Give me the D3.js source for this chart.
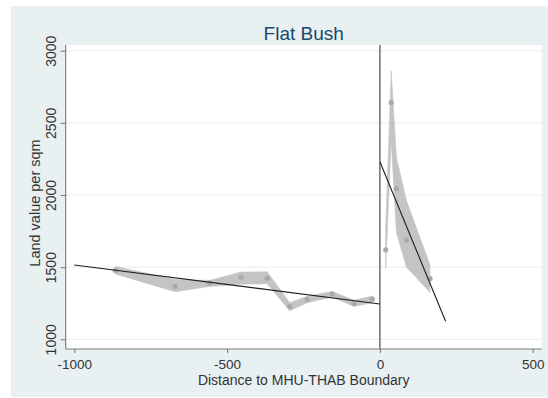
<!DOCTYPE html>
<html>
<head>
<meta charset="utf-8">
<script src="https://cdn.jsdelivr.net/npm/d3@7"></script>
<style>
  body { margin: 0; background: #fff; }
  text { font-family: 'Liberation Sans', Arial, sans-serif; }
</style>
</head>
<body>
<script>
// binned means west of the boundary (distance, mean, lower CI, upper CI)
const westDist = [-866, -670, -558, -454, -369, -295, -238, -156, -85, -25];
const westMean = [1478, 1366, 1390, 1430, 1423, 1226, 1276, 1314, 1248, 1278];
const westLo = [1452, 1330, 1366, 1382, 1385, 1198, 1253, 1294, 1228, 1254];
const westHi = [1505, 1415, 1408, 1466, 1468, 1254, 1298, 1332, 1270, 1300];

// binned means east of the boundary
const eastDist = [19, 37, 54, 87, 164];
const eastMean = [1620, 2640, 2045, 1688, 1420];
const eastLo = [1490, 2380, 1740, 1500, 1325];
const eastHi = [1770, 2860, 2260, 1960, 1515];

// linear fits either side
const westFit = [[-1000, 1515], [0, 1245]];
const eastFit = [[0, 2230], [215, 1125]];

const xTicks = [-1000, -500, 0, 500];
const yTicks = [1000, 1500, 2000, 2500, 3000];

const W = 548, H = 398;
const plot = {left: 65.7, right: 541.7, top: 45, bottom: 349};

const svg = d3.select('body').append('svg')
	.attr('width', W)
	.attr('height', H);

// graph region
svg.append('rect')
	.attr('x', 11).attr('y', 6)
	.attr('width', W - 11).attr('height', 391)
	.attr('fill', '#e9f0f2');

svg.append('rect')
	.attr('x', plot.left).attr('y', plot.top)
	.attr('width', plot.right - plot.left).attr('height', plot.bottom - plot.top)
	.attr('fill', '#fff');

const x = d3.scaleLinear().domain([-1000, 500]).range([74.3, 532.7]);
const y = d3.scaleLinear().domain([1000, 3000]).range([339.3, 50.7]);

// gridlines
svg.append('g')
	.selectAll('line')
	.data(yTicks)
	.enter()
	.append('line')
	.attr('x1', plot.left).attr('x2', plot.right)
	.attr('y1', d => y(d)).attr('y2', d => y(d))
	.attr('stroke', '#eaf1f3')
	.attr('stroke-width', 1.2);

function bandData(dist, lo, hi) {
	return dist.map((d, i) => ({x: d, lo: lo[i], hi: hi[i]}));
}

const area = d3.area()
	.x(d => x(d.x))
	.y0(d => y(d.lo))
	.y1(d => y(d.hi));

svg.append('g')
	.selectAll('path')
	.data([bandData(westDist, westLo, westHi), bandData(eastDist, eastLo, eastHi)])
	.enter()
	.append('path')
	.attr('d', area)
	.attr('fill', '#c4c4c4')
	.attr('stroke', '#c4c4c4')
	.attr('stroke-width', 0.6);

// points
const pts = westDist.map((d, i) => [d, westMean[i]])
	.concat(eastDist.map((d, i) => [d, eastMean[i]]));

svg.append('g')
	.selectAll('circle')
	.data(pts)
	.enter()
	.append('circle')
	.attr('cx', d => x(d[0]))
	.attr('cy', d => y(d[1]))
	.attr('r', 2.6)
	.attr('fill', '#a9a9a9');

// boundary line
svg.append('line')
	.attr('x1', x(0)).attr('x2', x(0))
	.attr('y1', plot.top).attr('y2', plot.bottom)
	.attr('stroke', '#6e6e6e')
	.attr('stroke-width', 1.5);

const line = d3.line()
	.x(d => x(d[0]))
	.y(d => y(d[1]));

svg.append('g')
	.selectAll('path')
	.data([westFit, eastFit])
	.enter()
	.append('path')
	.attr('d', line)
	.attr('fill', 'none')
	.attr('stroke', '#1e1e1e')
	.attr('stroke-width', 1.1);

// axes
const fmt = d => String(d);

const xAxis = svg.append('g')
	.attr('transform', `translate(0,${plot.bottom})`)
	.call(d3.axisBottom(x).tickValues(xTicks).tickFormat(fmt).tickSize(4).tickSizeOuter(0));
xAxis.select('.domain').attr('d', `M${plot.left},0H${plot.right}`);

const yAxis = svg.append('g')
	.attr('transform', `translate(${plot.left},0)`)
	.call(d3.axisLeft(y).tickValues(yTicks).tickFormat(fmt).tickSize(5).tickSizeOuter(0));
yAxis.select('.domain').attr('d', `M0,${plot.top}V${plot.bottom}`);

svg.selectAll('.domain, .tick line').attr('stroke', '#7a7a7a').attr('stroke-width', 1.1);

xAxis.selectAll('.tick text')
	.style('font-size', '13.5px')
	.attr('fill', '#333')
	.attr('y', 19.5)
	.attr('dy', null);

yAxis.selectAll('.tick text')
	.style('font-size', '14px')
	.attr('fill', '#333')
	.attr('x', null)
	.attr('dy', null)
	.attr('text-anchor', 'middle')
	.attr('transform', 'translate(-10,0) rotate(-90)');

svg.append('text')
	.attr('x', (plot.left + plot.right) / 2)
	.attr('y', 385)
	.attr('text-anchor', 'middle')
	.style('font-size', '14px')
	.attr('fill', '#333')
	.text('Distance to MHU-THAB Boundary');

svg.append('text')
	.attr('transform', 'translate(40,203) rotate(-90)')
	.attr('text-anchor', 'middle')
	.style('font-size', '14.5px')
	.attr('fill', '#333')
	.text('Land value per sqm');

svg.append('text')
	.attr('x', (plot.left + plot.right) / 2)
	.attr('y', 39.5)
	.attr('text-anchor', 'middle')
	.style('font-size', '19px')
	.attr('fill', '#1a476f')
	.text('Flat Bush');
</script>
</body>
</html>
